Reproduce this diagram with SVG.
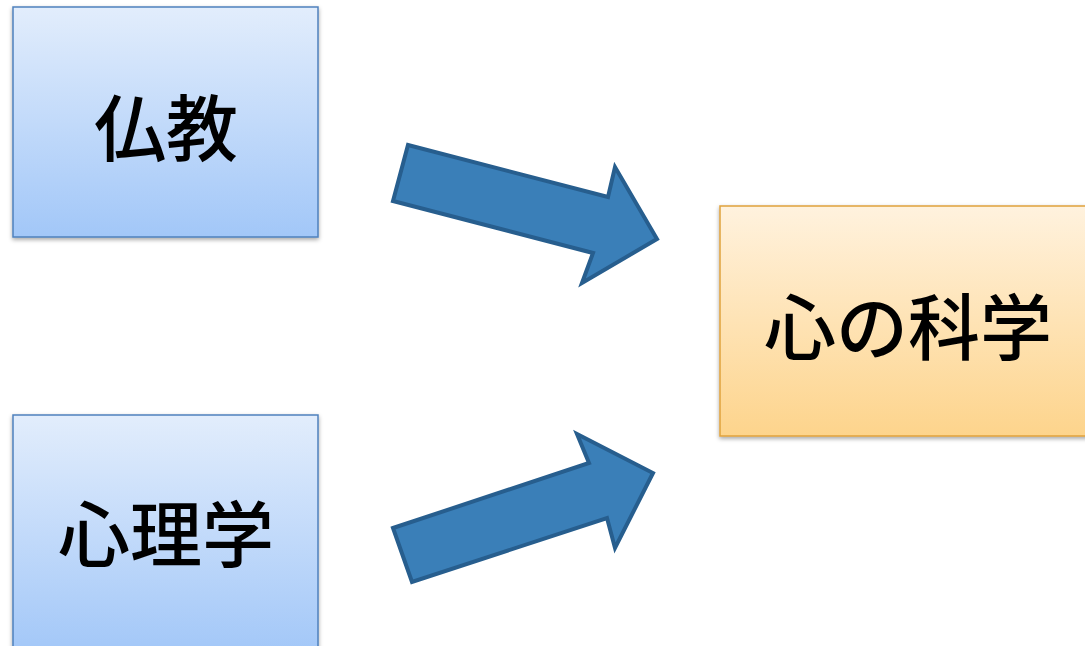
<svg xmlns="http://www.w3.org/2000/svg" width="1085" height="646" viewBox="0 0 1085 646">
<defs>
<linearGradient id="gBlue" x1="0" y1="0" x2="0" y2="1">
<stop offset="0" stop-color="#e2edfc"/>
<stop offset="1" stop-color="#a2c7f8"/>
</linearGradient>
<linearGradient id="gOrange" x1="0" y1="0" x2="0" y2="1">
<stop offset="0" stop-color="#fff2de"/>
<stop offset="1" stop-color="#fdd48c"/>
</linearGradient>
<filter id="sh" x="-10%" y="-10%" width="120%" height="120%">
<feDropShadow dx="0" dy="2" stdDeviation="2" flood-color="#000" flood-opacity="0.35"/>
</filter>
</defs>
<style>
.blue{fill:url(#gBlue);stroke:#4f81bd;stroke-width:1.5}
.orange{fill:url(#gOrange);stroke:#e0a23c;stroke-width:1.5}
.lbl{font-family:"Noto Sans CJK JP","Noto Sans CJK SC",sans-serif;font-size:72px;font-weight:500;fill:#000;text-anchor:middle}
.arrow{fill:#3a7fb8;stroke:#275e8e;stroke-width:4;stroke-linejoin:miter}
</style>
<rect width="1085" height="646" fill="#fff"/>
<g id="node-bukkyo">
<rect class="blue" x="13" y="7" width="305" height="230" filter="url(#sh)"/>
<text class="lbl" x="166" y="155">仏教</text>
</g>
<g id="node-shinrigaku">
<rect class="blue" x="13" y="415" width="305" height="240" filter="url(#sh)"/>
<text class="lbl" x="166" y="561">心理学</text>
</g>
<g id="node-kokoro">
<rect class="orange" x="720" y="206" width="375" height="230" filter="url(#sh)"/>
<text class="lbl" x="908" y="354">心の科学</text>
</g>
<g id="connectors">
<polygon class="arrow" points="408,145 608,197 615,167 657,239 582,283 593,253 393,201"/>
<polygon class="arrow" points="393,528 589,463 577,434 653,473 615,548 607,518 412,582"/>
</g>
</svg>
